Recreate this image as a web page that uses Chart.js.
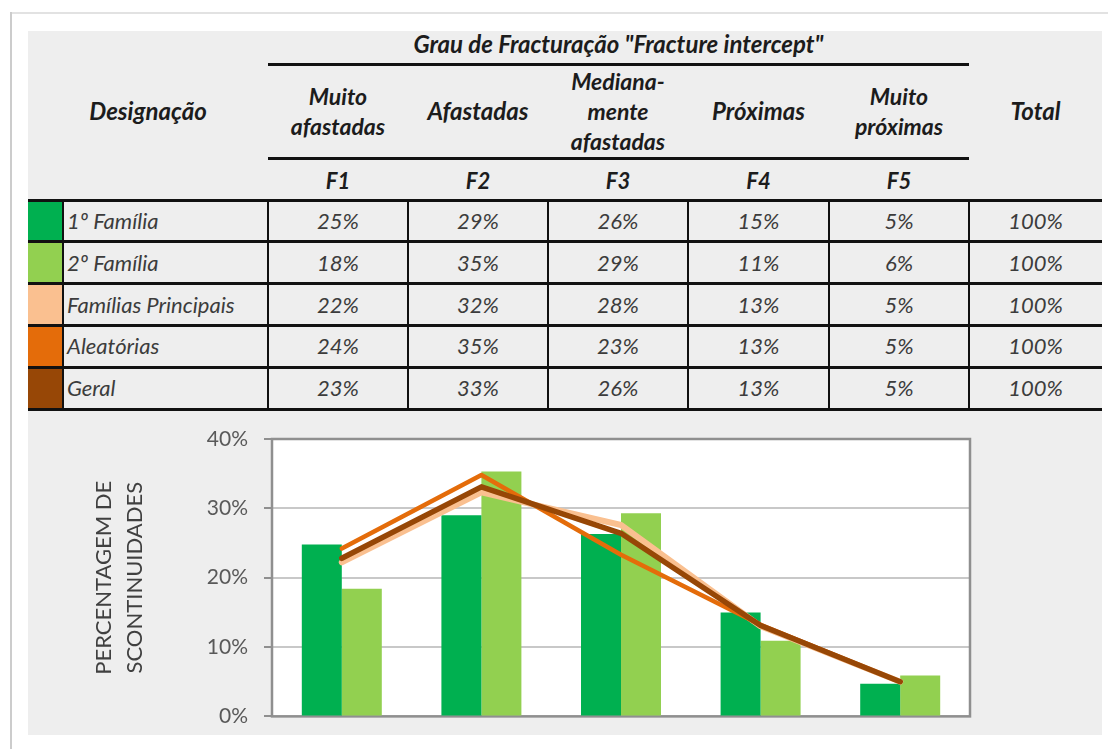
<!DOCTYPE html>
<html>
<head>
<meta charset="utf-8">
<script src="https://cdn.jsdelivr.net/npm/chart.js@4/dist/chart.umd.min.js"></script>
<style>
  body { margin: 0; background: #fff; font-family: Lato, sans-serif; }
  #page { position: relative; width: 1108px; height: 749px; overflow: hidden; }
  .frameTop { position: absolute; left: 11px; top: 12px; width: 1097px; height: 2px; background: #e2e2e2; }
  .frameLeft { position: absolute; left: 10px; top: 12px; width: 2px; height: 737px; background: #cccccc; }
  #panel { position: absolute; left: 28px; top: 31px; width: 1074px; height: 704px; background: #eeeeee; }
  .txt { position: absolute; white-space: nowrap; font-style: italic; }
  .hd { font-weight: bold; color: #1c1c1c; font-size: 23px; text-align: center; line-height: 30px; }
  .big { font-size: 24px; }
  .cell { color: #3c3c3c; font-size: 22px; line-height: 24px; }
  .ln { position: absolute; background: #111; }
  #chartBox { position: absolute; left: 28px; top: 410px; width: 1074px; height: 335px; }
</style>
</head>
<body>
<div id="page">
  <div class="frameTop"></div>
  <div class="frameLeft"></div>
  <div id="panel"></div>
  <div id="table"></div>
  <div id="chartBox"><canvas id="grafico"></canvas></div>
</div>
<script>
// dados da tabela / grafico
const groupTitle = 'Grau de Fracturação "Fracture intercept"';
const firstHeader = 'Designação';
const totalHeader = 'Total';
const classNames = [['Muito', 'afastadas'], ['Afastadas'], ['Mediana-', 'mente', 'afastadas'], ['Próximas'], ['Muito', 'próximas']];
const categories = ['F1', 'F2', 'F3', 'F4', 'F5'];
const seriesNames = ['1º Família', '2º Família', 'Famílias Principais', 'Aleatórias', 'Geral'];
const seriesColors = ['#00b050', '#92d050', '#fac090', '#e46c0a', '#974706'];

const familia1 = [24.8, 29.0, 26.3, 15.0, 4.7];
const familia2 = [18.4, 35.3, 29.3, 10.9, 5.9];
const principais = [22.2, 32.3, 27.6, 13.0, 5.0];
const aleatorias = [24.2, 34.8, 23.3, 13.2, 5.0];
const geral = [22.8, 33.1, 26.4, 13.1, 5.0];
const totals = [100, 100, 100, 100, 100];

const yTitle = ['PERCENTAGEM DE', 'SCONTINUIDADES'];

// ---- tabela ----
const table = document.getElementById('table');
const colX = [268, 408, 548, 688, 829, 969];
const rowTop = 200, rowH = 41.8;

function addText(cls, text, css) {
    const d = document.createElement('div');
    d.className = 'txt ' + cls;
    d.textContent = text;
    Object.assign(d.style, css);
    table.appendChild(d);
    return d;
}
function addLine(x, y, w, h) {
    const d = document.createElement('div');
    d.className = 'ln';
    d.style.left = x + 'px'; d.style.top = y + 'px';
    d.style.width = w + 'px'; d.style.height = h + 'px';
    table.appendChild(d);
}

addText('hd big', groupTitle, { left: '268px', width: '701px', top: '29px' });
addLine(268, 63, 701, 2.5);
addLine(268, 157, 701, 2.5);
addText('hd big', firstHeader, { left: '28px', width: '240px', top: '96px' });
addText('hd big', totalHeader, { left: '969px', width: '133px', top: '96px' });

classNames.forEach(function (lines, i) {
    const h = lines.length * 30;
    const top = 111 - h / 2;
    const cls = lines.length > 1 ? 'hd' : 'hd big';
    const d = addText(cls, '', { left: colX[i] + 'px', width: (colX[i + 1] - colX[i]) + 'px', top: top + 'px' });
    d.innerHTML = lines.join('<br>');
    addText('hd', categories[i], { left: colX[i] + 'px', width: (colX[i + 1] - colX[i]) + 'px', top: '166px', fontSize: '22px' });
});

const tableRows = [familia1, familia2, principais, aleatorias, geral];
tableRows.forEach(function (vals, r) {
    const y = rowTop + r * rowH;
    // quadrado de cor
    const sw = document.createElement('div');
    sw.style.cssText = 'position:absolute;left:28px;width:35px;top:' + y + 'px;height:' + rowH + 'px;background:' + seriesColors[r];
    table.appendChild(sw);
    addText('cell', seriesNames[r], { left: '67px', top: (y + 9) + 'px' });
    vals.forEach(function (v, i) {
        addText('cell', Math.round(v) + '%', { left: colX[i] + 'px', width: (colX[i + 1] - colX[i]) + 'px', top: (y + 9) + 'px', textAlign: 'center' });
    });
    addText('cell', totals[r] + '%', { left: '969px', width: '133px', top: (y + 9) + 'px', textAlign: 'center' });
});
for (let r = 0; r <= tableRows.length; r++) {
    addLine(28, rowTop + r * rowH - 1.5, 1074, 3);
}
[63].concat(colX).forEach(function (x) {
    addLine(x - 1.2, rowTop, 2.5, rowH * tableRows.length);
});

// ---- grafico ----
const plotBox = {
    id: 'plotBox',
    beforeDraw(chart) {
        const a = chart.chartArea, ctx = chart.ctx;
        ctx.save();
        ctx.fillStyle = '#ffffff';
        ctx.fillRect(a.left, a.top, a.right - a.left, a.bottom - a.top);
        ctx.restore();
    },
    beforeDatasetsDraw(chart) {
        const a = chart.chartArea, ctx = chart.ctx;
        ctx.save();
        ctx.strokeStyle = '#8f8f8f';
        ctx.lineWidth = 2.5;
        ctx.strokeRect(a.left, a.top, a.right - a.left, a.bottom - a.top);
        ctx.restore();
    }
};

function lineSet(label, data, color, width, order) {
    return {
        type: 'line', label: label, data: data,
        borderColor: color, backgroundColor: color, borderWidth: width,
        pointRadius: 0, tension: 0, fill: false,
        borderCapStyle: 'round', borderJoinStyle: 'round', order: order
    };
}
function barSet(label, data, color) {
    return {
        type: 'bar', label: label, data: data, backgroundColor: color,
        categoryPercentage: 0.573, barPercentage: 1, order: 3
    };
}

new Chart(document.getElementById('grafico'), {
    data: {
        labels: categories,
        datasets: [
            barSet(seriesNames[0], familia1, seriesColors[0]),
            barSet(seriesNames[1], familia2, seriesColors[1]),
            lineSet(seriesNames[2], principais, seriesColors[2], 6, 2),
            lineSet(seriesNames[3], aleatorias, seriesColors[3], 4.5, 1),
            lineSet(seriesNames[4], geral, seriesColors[4], 5.5, 0)
        ]
    },
    options: {
        responsive: true,
        maintainAspectRatio: false,
        animation: false,
        layout: { padding: { top: 29, bottom: 20, left: 0, right: 132 } },
        plugins: { legend: { display: false }, tooltip: { enabled: false } },
        scales: {
            x: { display: false, offset: true },
            y: {
                min: 0, max: 40,
                ticks: {
                    stepSize: 10,
                    callback: function (v) { return v + '%'; },
                    color: '#595959',
                    font: { family: 'Lato', size: 21 },
                    padding: 16
                },
                grid: { color: '#c8c8c8', lineWidth: 2, tickLength: 8, tickColor: '#8f8f8f', tickWidth: 2 },
                border: { display: false },
                title: {
                    display: true, text: yTitle, color: '#404040',
                    font: { family: 'Lato', size: 22, lineHeight: 1.4 },
                    padding: { top: 61, bottom: 0 }
                },
                afterFit: function (scale) { scale.width = 244; }
            }
        }
    },
    plugins: [plotBox]
});
</script>
</body>
</html>
